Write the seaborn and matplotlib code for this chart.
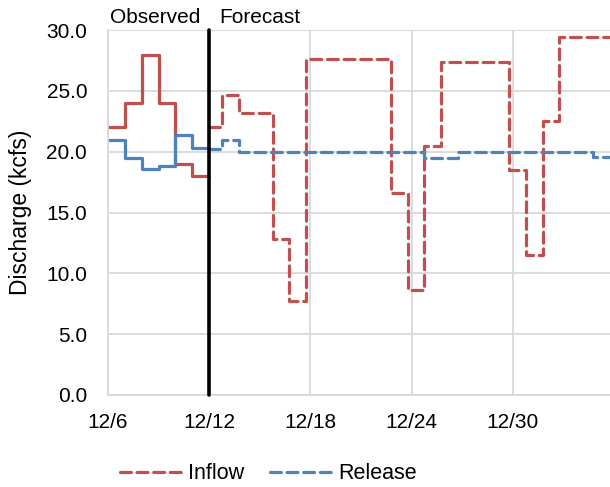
import numpy as np
import pandas as pd
import matplotlib
matplotlib.use("Agg")
import matplotlib.pyplot as plt
import seaborn as sns
from matplotlib.lines import Line2D

# days after 12/6
obs_days = [0, 1, 2, 3, 4, 5, 6]
obs_inflow = [22.0, 24.0, 28.0, 24.0, 19.0, 18.0]
obs_release = [21.0, 19.5, 18.6, 18.8, 21.4, 20.3]

fc_days = [6, 6.75, 7.75, 8.75, 9.75, 10.75, 11.75, 12.75, 13.75, 14.75, 15.75,
           16.75, 17.75, 18.75, 19.75, 20.75, 21.75, 22.75, 23.75, 24.75, 25.75,
           26.75, 27.75, 28.75, 29.75]
fc_inflow = [22.0, 24.7, 23.2, 23.2, 12.8, 7.7, 27.6, 27.6, 27.6, 27.6, 27.6,
             16.6, 8.6, 20.5, 27.4, 27.4, 27.4, 27.4, 18.5, 11.5, 22.5,
             29.4, 29.4, 29.4]
fc_release = [20.2, 21.0, 20.0, 20.0, 20.0, 20.0, 20.0, 20.0, 20.0, 20.0, 20.0,
              20.0, 20.0, 19.5, 19.5, 20.0, 20.0, 20.0, 20.0, 20.0, 20.0,
              20.0, 20.0, 19.6]

tick_days = [0, 6, 12, 18, 24]
tick_labels = ["12/6", "12/12", "12/18", "12/24", "12/30"]
y_ticks = [0, 5, 10, 15, 20, 25, 30]

red = "#C0504D"
blue = "#4F81BD"

sns.set_style("white")
plt.rcParams['font.family'] = ['Liberation Sans', 'DejaVu Sans']
plt.rcParams['text.color'] = 'black'
plt.rcParams['xtick.color'] = 'black'
plt.rcParams['ytick.color'] = 'black'
plt.rcParams['axes.labelcolor'] = 'black'

obs = pd.DataFrame({"day": obs_days,
                    "inflow": obs_inflow + obs_inflow[-1:],
                    "release": obs_release + obs_release[-1:]})
fc = pd.DataFrame({"day": fc_days,
                   "inflow": fc_inflow + fc_inflow[-1:],
                   "release": fc_release + fc_release[-1:]})

fig = plt.figure(figsize=(6.1, 4.87), dpi=100)
ax = fig.add_axes([0.177, 0.189, 0.823, 0.749])

lw = 2.3
dash = (0, (3.4, 1.8))
sns.lineplot(data=obs, x="day", y="inflow", ax=ax, color=red, lw=lw,
             drawstyle="steps-post", legend=False)
sns.lineplot(data=obs, x="day", y="release", ax=ax, color=blue, lw=lw,
             drawstyle="steps-post", legend=False)
sns.lineplot(data=fc, x="day", y="inflow", ax=ax, color=red, lw=lw,
             drawstyle="steps-post", legend=False, dashes=False,
             linestyle=dash, dash_capstyle="round")
sns.lineplot(data=fc, x="day", y="release", ax=ax, color=blue, lw=lw,
             drawstyle="steps-post", legend=False, dashes=False,
             linestyle=dash, dash_capstyle="round")

ax.axvline(6, color="black", lw=2.6, zorder=5, clip_on=False)

ax.set_xlim(0, 29.75)
ax.set_ylim(0, 30)
ax.set_xticks(tick_days)
ax.set_xticklabels(tick_labels)
ax.set_yticks(y_ticks)
ax.set_yticklabels([f"{v:.1f}" for v in y_ticks])
ax.tick_params(axis="both", labelsize=15, length=0)
ax.tick_params(axis="x", pad=13)
ax.tick_params(axis="y", pad=15)
ax.grid(True, color="#D9D9D9", lw=1.3)
ax.set_axisbelow(True)
for s in ["top", "right"]:
    ax.spines[s].set_visible(False)
for s in ["left", "bottom"]:
    ax.spines[s].set_color("#D9D9D9")
    ax.spines[s].set_linewidth(1.3)
ax.set_xlabel("")
ax.set_ylabel("Discharge (kcfs)", fontsize=16.5)
ax.yaxis.set_label_coords(-0.152, 0.5)

ax.text(5.45, 30.25, "Observed", fontsize=15, ha="right", va="bottom")
ax.text(6.6, 30.25, "Forecast", fontsize=15, ha="left", va="bottom")

handles = [Line2D([], [], color=red, lw=lw, linestyle=dash, dash_capstyle="round"),
           Line2D([], [], color=blue, lw=lw, linestyle=dash, dash_capstyle="round")]
fig.legend(handles, ["Inflow", "Release"], loc="center", bbox_to_anchor=(0.44, 0.027),
           ncol=2, frameon=False, fontsize=15.5, handlelength=2.9, columnspacing=1.2,
           handletextpad=0.25)

fig.savefig("out.png", dpi=100)
